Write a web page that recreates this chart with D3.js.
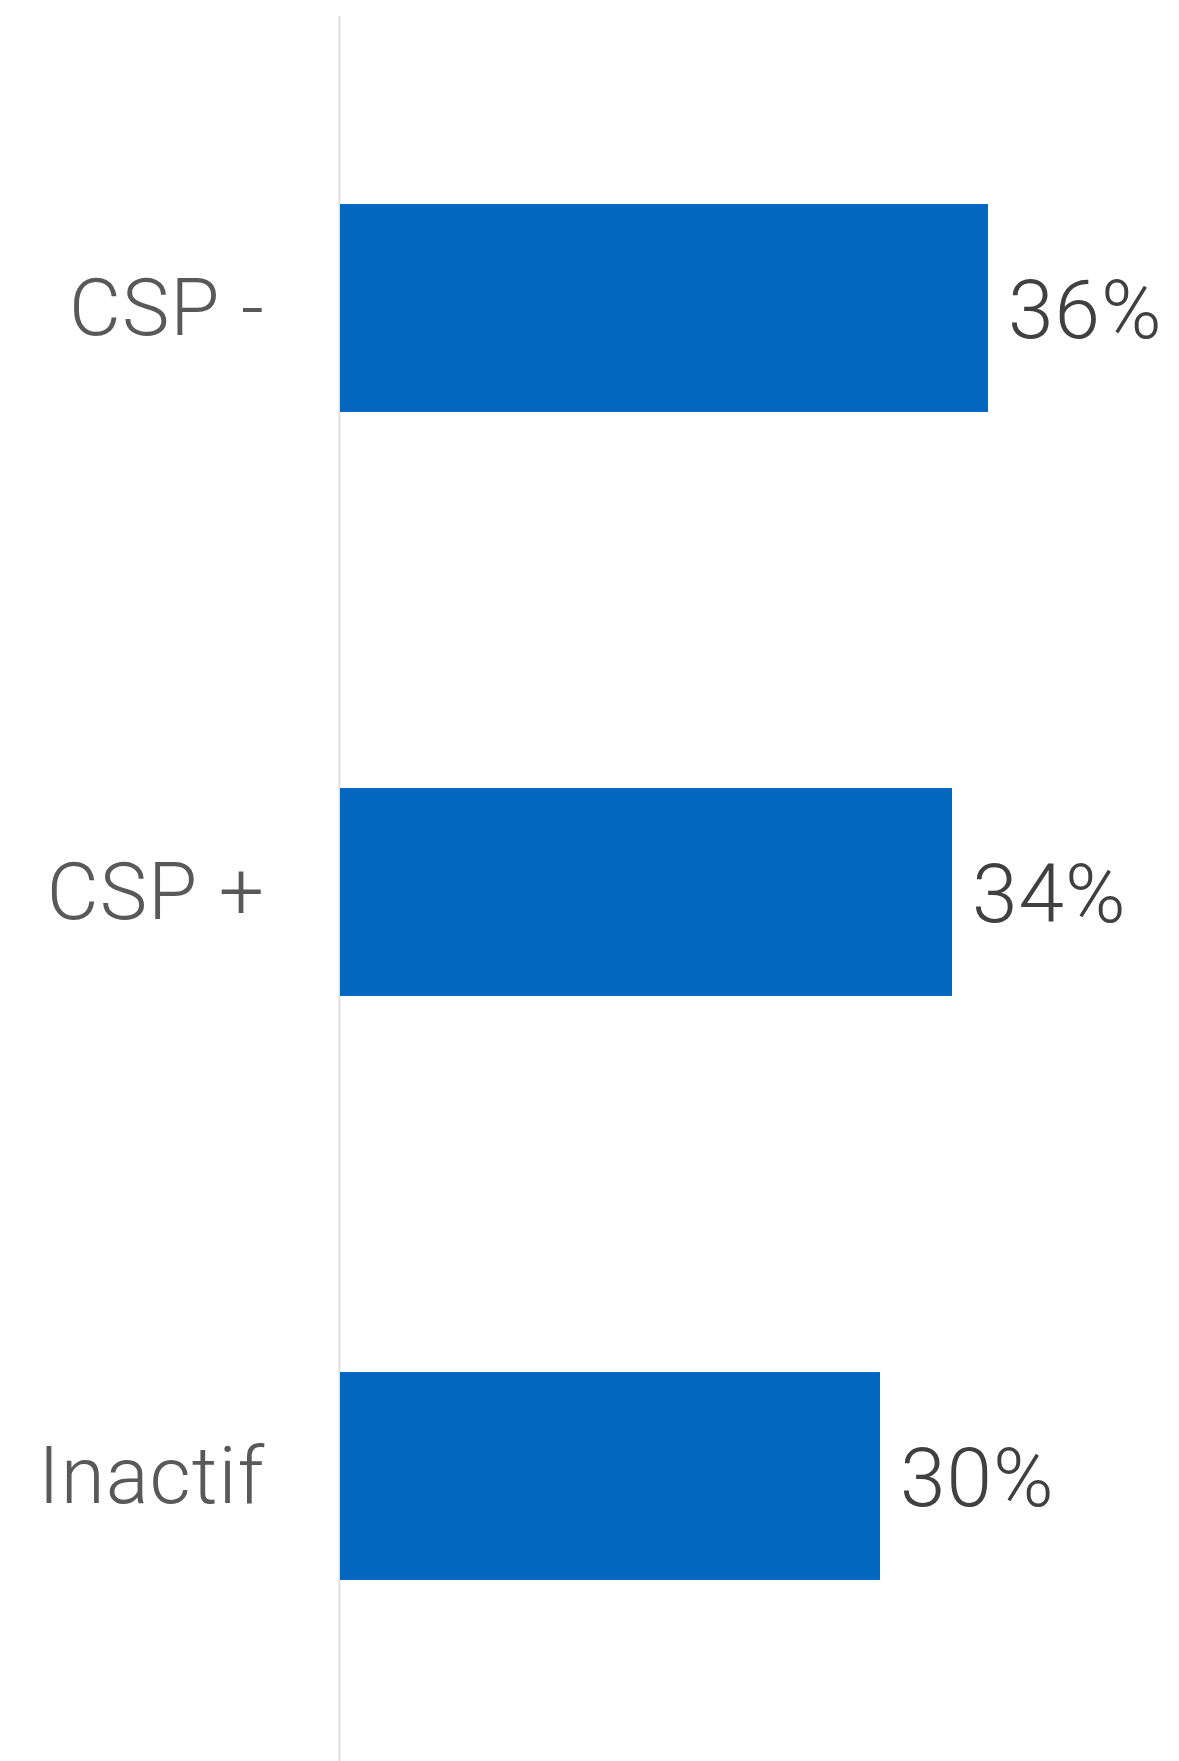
<!DOCTYPE html>
<html>
<head>
<meta charset="utf-8">
<script src="https://cdn.jsdelivr.net/npm/d3@7"></script>
<style>
    html, body { margin: 0; padding: 0; background: #fff; }
    svg { display: block; }
</style>
</head>
<body>
<svg id="chart"></svg>
<script>
const categories = ['CSP -', 'CSP +', 'Inactif'];
const values = [36, 34, 30];
const valueLabels = ['36%', '34%', '30%'];

function drawChart() {
    const width = 1179;
    const height = 1761;
    const axisX = 340;

    const svg = d3.select('#chart')
        .attr('width', width)
        .attr('height', height);

    const data = categories.map((c, i) => ({ cat: c, value: values[i], label: valueLabels[i] }));

    const x = d3.scaleLinear()
        .domain([0, 36])
        .range([axisX, 988]);

    const y = d3.scaleBand()
        .domain(categories)
        .range([23, 1761])
        .paddingInner(0.644)
        .paddingOuter(0.31);

    // vertical baseline
    svg.append('line')
        .attr('x1', axisX - 0.5)
        .attr('x2', axisX - 0.5)
        .attr('y1', 16)
        .attr('y2', height)
        .attr('stroke', '#e0e0e0')
        .attr('stroke-width', 2);

    svg.selectAll('.bar')
        .data(data)
        .enter().append('rect')
        .attr('class', 'bar')
        .attr('x', x(0))
        .attr('y', d => y(d.cat))
        .attr('width', d => x(d.value) - x(0))
        .attr('height', y.bandwidth())
        .attr('fill', '#0366bf');

    svg.selectAll('.cat-label')
        .data(data)
        .enter().append('text')
        .attr('class', 'cat-label')
        .attr('x', axisX - 75)
        .attr('y', d => y(d.cat) + y.bandwidth() / 2)
        .attr('dy', '0.34em')
        .attr('text-anchor', 'end')
        .attr('font-family', 'Roboto, "Liberation Sans", sans-serif')
        .attr('font-weight', 300)
        .attr('font-size', '80px')
        .attr('letter-spacing', '1px')
        .attr('fill', '#595959')
        .text(d => d.cat);

    svg.selectAll('.val-label')
        .data(data)
        .enter().append('text')
        .attr('class', 'val-label')
        .attr('x', d => x(d.value) + 20)
        .attr('y', d => y(d.cat) + y.bandwidth() / 2)
        .attr('dy', '0.37em')
        .attr('font-family', 'Roboto, "Liberation Sans", sans-serif')
        .attr('font-weight', 300)
        .attr('font-size', '82px')
        .attr('letter-spacing', '1px')
        .attr('fill', '#404040')
        .text(d => d.label);
}

drawChart();
</script>
</body>
</html>
